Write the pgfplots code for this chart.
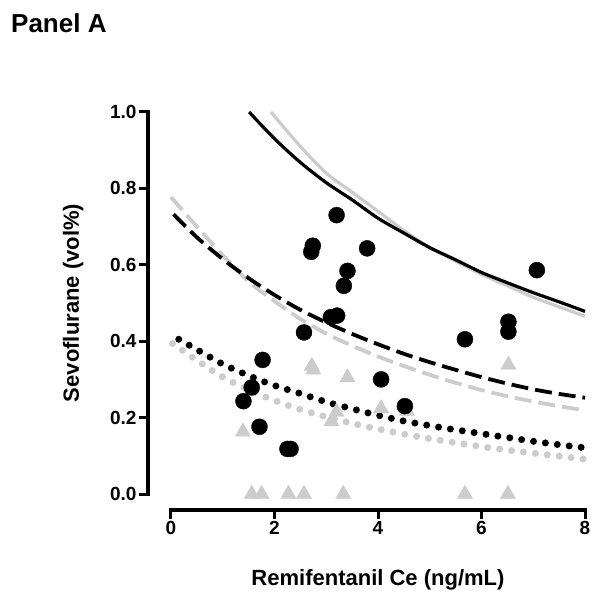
\documentclass[border=0pt]{standalone}
\usepackage{fontspec}
\setmainfont{Liberation Sans}
\usepackage{pgfplots}
\pgfplotsset{compat=1.18}
\definecolor{lg}{gray}{0.8}
\begin{document}
\begin{tikzpicture}
\begin{axis}[
 at={(0pt,0pt)}, anchor=south west,
 x=51.75pt, y=382pt,
 xmin=0, xmax=8, ymin=0, ymax=1,
 clip=false,
 axis lines*=left,
 axis x line shift=16pt,
 axis y line shift=23pt,
 axis line style={draw=none},
 tick align=outside,
 major tick length=8pt,
 major tick style={draw=none},
 xtick={0,2,4,6,8}, ytick={0,0.2,0.4,0.6,0.8,1.0},
 /pgf/number format/assume math mode=true,
 yticklabel style={/pgf/number format/.cd, fixed, fixed zerofill, precision=1},
 tick label style={font=\bfseries\fontsize{19}{19}\selectfont},
 xlabel={Remifentanil Ce (ng/mL)}, ylabel={Sevoflurane (vol\%)},
 label style={font=\bfseries\fontsize{22}{22}\selectfont},
 xlabel style={at={(axis description cs:0.5,-0.225)}, anchor=center},
 ylabel style={at={(axis description cs:-0.236,0.5)}, anchor=center},
]
% axis lines and ticks
\draw[line width=3.5pt, line cap=butt] ([yshift=-16pt,xshift=-1.5pt]axis cs:0,0) -- ([yshift=-16pt,xshift=1.5pt]axis cs:8,0);
\draw[line width=3.5pt, line cap=butt] ([xshift=-23pt,yshift=-1.5pt]axis cs:0,0) -- ([xshift=-23pt,yshift=1.5pt]axis cs:0,1);
\draw[line width=3pt] ([yshift=-16pt]axis cs:0,0) -- ([yshift=-25pt]axis cs:0,0);
\draw[line width=3pt] ([yshift=-16pt]axis cs:2,0) -- ([yshift=-25pt]axis cs:2,0);
\draw[line width=3pt] ([yshift=-16pt]axis cs:4,0) -- ([yshift=-25pt]axis cs:4,0);
\draw[line width=3pt] ([yshift=-16pt]axis cs:6,0) -- ([yshift=-25pt]axis cs:6,0);
\draw[line width=3pt] ([yshift=-16pt]axis cs:8,0) -- ([yshift=-25pt]axis cs:8,0);
\draw[line width=3pt] ([xshift=-23pt]axis cs:0,0) -- ([xshift=-32pt]axis cs:0,0);
\draw[line width=3pt] ([xshift=-23pt]axis cs:0,0.2) -- ([xshift=-32pt]axis cs:0,0.2);
\draw[line width=3pt] ([xshift=-23pt]axis cs:0,0.4) -- ([xshift=-32pt]axis cs:0,0.4);
\draw[line width=3pt] ([xshift=-23pt]axis cs:0,0.6) -- ([xshift=-32pt]axis cs:0,0.6);
\draw[line width=3pt] ([xshift=-23pt]axis cs:0,0.8) -- ([xshift=-32pt]axis cs:0,0.8);
\draw[line width=3pt] ([xshift=-23pt]axis cs:0,1.0) -- ([xshift=-32pt]axis cs:0,1.0);
% gray triangles
\addplot[only marks, mark=triangle*, mark size=8.8pt, color=lg, mark options={fill=lg, draw=lg}] coordinates {
(1.39,0.163) (2.72,0.335) (2.75,0.325) (3.41,0.305) (3.10,0.190) (3.20,0.215)
(4.06,0.224) (4.56,0.217) (6.52,0.338)
(1.56,0.0) (1.75,0.0) (2.27,0.0) (2.57,0.0) (3.33,0.0) (5.68,0.0) (6.51,0.0)
};
% black circles
\addplot[only marks, mark=*, mark size=8pt, color=black, mark options={fill=black, draw=black}] coordinates {
(3.20,0.730) (2.74,0.650) (2.71,0.634) (3.79,0.643) (3.41,0.584) (3.34,0.545)
(7.07,0.586) (2.57,0.423) (3.09,0.463) (3.21,0.467) (4.06,0.300) (4.52,0.230)
(5.68,0.405) (6.52,0.451) (6.52,0.425) (1.77,0.351) (1.56,0.279) (1.40,0.243)
(1.71,0.176) (2.25,0.118) (2.31,0.118)
};
% gray solid
\addplot[lg, line width=3.2pt, no marks, smooth] coordinates {
(1.93,1.000) (2.5,0.910) (3.0,0.840) (3.5,0.790) (4.0,0.740) (4.5,0.690) (5.0,0.645)
(5.5,0.610) (6.0,0.575) (6.5,0.545) (7.0,0.515) (7.5,0.490) (8.0,0.465)
};
% black solid
\addplot[black, line width=3.2pt, no marks, smooth] coordinates {
(1.51,1.000) (2.0,0.930) (2.5,0.868) (3.0,0.815) (3.5,0.770) (4.0,0.722) (4.5,0.683)
(5.0,0.645) (5.5,0.613) (6.0,0.580) (6.5,0.553) (7.0,0.527) (7.5,0.503) (8.0,0.478)
};
% gray dashed
\addplot[lg, line width=3.8pt, no marks, smooth, dash pattern=on 17pt off 7pt] coordinates {
(0,0.777) (0.5,0.700) (1.0,0.625) (1.5,0.556) (2.0,0.505) (2.5,0.458) (3.0,0.420)
(3.5,0.388) (4.0,0.360) (4.5,0.335) (5.0,0.312) (5.5,0.291) (6.0,0.272) (6.5,0.256)
(7.0,0.242) (7.5,0.230) (8.0,0.219)
};
% black dashed
\addplot[black, line width=3.8pt, no marks, smooth, dash pattern=on 17pt off 7pt] coordinates {
(0.05,0.732) (0.5,0.672) (1.0,0.615) (1.5,0.565) (2.0,0.521) (2.5,0.482) (3.0,0.449)
(3.5,0.419) (4.0,0.392) (4.5,0.367) (5.0,0.345) (5.5,0.325) (6.0,0.306) (6.5,0.289)
(7.0,0.274) (7.5,0.262) (8.0,0.252)
};
% gray dotted
\addplot[lg, line width=7pt, no marks, smooth, line cap=round, dash pattern=on 0pt off 12pt] coordinates {
(0.03,0.394) (0.5,0.350) (1.0,0.306) (1.5,0.273) (2.0,0.245) (2.5,0.221) (3.0,0.202)
(3.5,0.185) (4.0,0.170) (4.5,0.157) (5.0,0.145) (5.5,0.134) (6.0,0.124) (6.5,0.115)
(7.0,0.107) (7.5,0.099) (8.0,0.091)
};
% black dotted
\addplot[black, line width=7pt, no marks, smooth, line cap=round, dash pattern=on 0pt off 12pt] coordinates {
(0.15,0.405) (0.5,0.378) (1.0,0.340) (1.5,0.310) (2.0,0.284) (2.5,0.263) (3.0,0.241)
(3.5,0.223) (4.0,0.206) (4.5,0.191) (5.0,0.179) (5.5,0.168) (6.0,0.158) (6.5,0.148)
(7.0,0.138) (7.5,0.129) (8.0,0.121)
};
\end{axis}
\node[anchor=base west, inner sep=0pt, font=\bfseries\fontsize{26}{26}\selectfont] at (-160pt,461pt) {Panel A};
\pgfresetboundingbox
\path[use as bounding box] (-171pt,-111pt) rectangle (430pt,494pt);
\end{tikzpicture}
\end{document}
